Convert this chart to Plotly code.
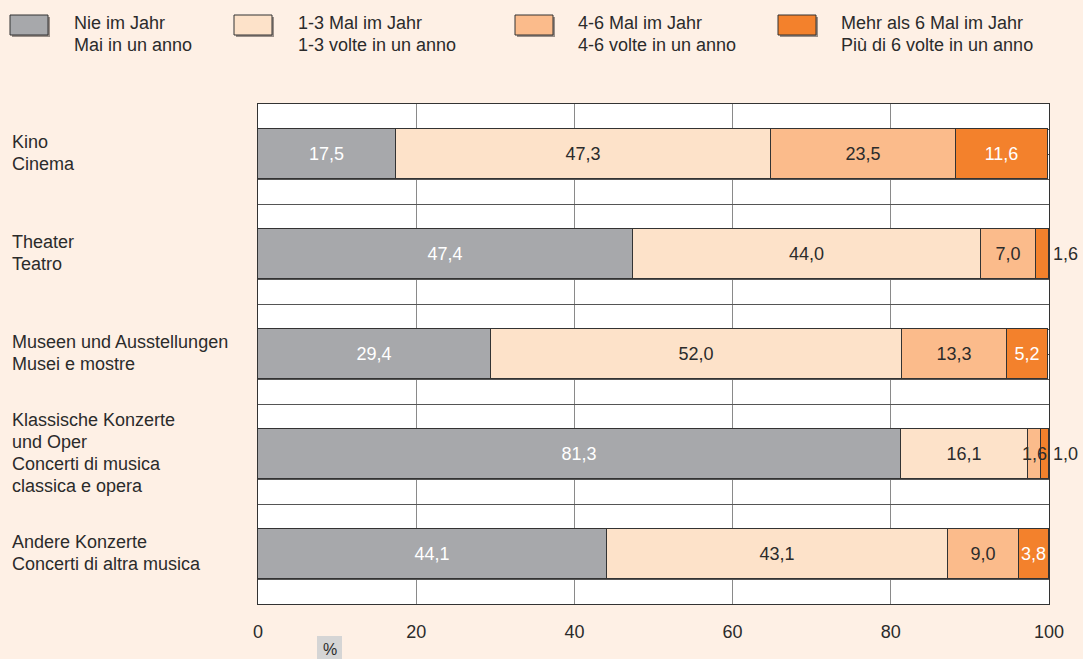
import plotly.graph_objects as go

categories = [
    "Kino<br>Cinema",
    "Theater<br>Teatro",
    "Museen und Ausstellungen<br>Musei e mostre",
    "Klassische Konzerte<br>und Oper<br>Concerti di musica<br>classica e opera",
    "Andere Konzerte<br>Concerti di altra musica",
]
series_names = [
    "Nie im Jahr<br>Mai in un anno",
    "1-3 Mal im Jahr<br>1-3 volte in un anno",
    "4-6 Mal im Jahr<br>4-6 volte in un anno",
    "Mehr als 6 Mal im Jahr<br>Più di 6 volte in un anno",
]
nie = [17.5, 47.4, 29.4, 81.3, 44.1]
mal_1_3 = [47.3, 44.0, 52.0, 16.1, 43.1]
mal_4_6 = [23.5, 7.0, 13.3, 1.6, 9.0]
mehr_6 = [11.6, 1.6, 5.2, 1.0, 3.8]
series_values = [nie, mal_1_3, mal_4_6, mehr_6]
# labels shown outside the bar end (series index, category index)
outside_labels = [(3, 1), (3, 3)]
# labels centred on a bar but drawn on top (overflowing a narrow bar)
overflow_labels = [(2, 3)]
x_ticks = [0, 20, 40, 60, 80, 100]

colors = ["#a7a8ab", "#fde2c9", "#fbbb8b", "#f3812c"]
text_colors = ["#ffffff", "#2b2b2b", "#2b2b2b", "#ffffff"]
BG = "#fef0e5"
FONT = "Liberation Sans, Arial, sans-serif"
FS = 18
LINE = 22

W, H = 1083, 659
L, R, T, B = 258, 1049, 104, 604


def px(x):
    return (x - L) / (R - L)


def py(y):
    return 1 - (y - T) / (B - T)


def fmt(v):
    return f"{v:.1f}".replace(".", ",")


fig = go.Figure()
ys = list(range(len(categories)))
for si, (name, vals) in enumerate(zip(series_names, series_values)):
    texts = []
    for ci, v in enumerate(vals):
        special = (si, ci) in outside_labels or (si, ci) in overflow_labels
        texts.append("" if special else fmt(v))
    fig.add_trace(go.Bar(
        x=vals, y=ys, orientation="h", name=name,
        width=0.5,
        marker=dict(color=colors[si], line=dict(color="#333333", width=1)),
        text=texts, textposition="inside", insidetextanchor="middle",
        textangle=0, constraintext="none",
        textfont=dict(color=text_colors[si], size=FS, family=FONT),
        hoverinfo="skip", showlegend=False,
    ))

annotations = []
shapes = []
# outside labels
for si, ci in outside_labels:
    total = sum(s[ci] for s in series_values)
    annotations.append(dict(
        x=total, y=ci, xref="x", yref="y", text=fmt(series_values[si][ci]),
        showarrow=False, xanchor="left", xshift=2, yanchor="middle",
        font=dict(size=FS, color="#2b2b2b", family=FONT)))
# overflow labels
for si, ci in overflow_labels:
    start = sum(series_values[k][ci] for k in range(si))
    mid = start + series_values[si][ci] / 2
    annotations.append(dict(
        x=mid, y=ci, xref="x", yref="y", text=fmt(series_values[si][ci]),
        showarrow=False, xanchor="center", yanchor="middle",
        font=dict(size=FS, color=text_colors[si], family=FONT)))

# category labels (one annotation per line for exact line spacing)
for ci, cat in enumerate(categories):
    lines = cat.split("<br>")
    n = len(lines)
    for li, line in enumerate(lines):
        annotations.append(dict(
            x=px(10), y=ci, xref="paper", yref="y", text=line, showarrow=False,
            xanchor="left", yanchor="middle", align="left",
            yshift=-(li - (n - 1) / 2) * LINE + 1,
            font=dict(size=FS, color="#2b2b2b", family=FONT)))

# custom legend
box_x = [10, 234, 515, 778]
text_x = [72, 296, 576, 839]
for si, name in enumerate(series_names):
    x0, x1 = box_x[si], box_x[si] + 38
    y0, y1 = 15, 35
    shapes.append(dict(type="rect", xref="paper", yref="paper",
                       x0=px(x0 + 2), x1=px(x1 + 2), y0=py(y0 + 2), y1=py(y1 + 2),
                       fillcolor="#9a8f88", line=dict(width=0), layer="above"))
    shapes.append(dict(type="rect", xref="paper", yref="paper",
                       x0=px(x0), x1=px(x1), y0=py(y0), y1=py(y1),
                       fillcolor=colors[si], line=dict(color="#333333", width=1),
                       layer="above"))
    for li, line in enumerate(name.split("<br>")):
        annotations.append(dict(
            x=px(text_x[si]), y=py(23 + li * LINE), xref="paper", yref="paper",
            text=line, showarrow=False, xanchor="left", yanchor="middle",
            align="left", font=dict(size=FS, color="#2b2b2b", family=FONT)))

# % box
shapes.append(dict(type="rect", xref="paper", yref="paper",
                   x0=px(317), x1=px(342), y0=py(636), y1=py(662),
                   fillcolor="#d5d5d5", line=dict(width=0)))
annotations.append(dict(x=px(329.5), y=py(649), xref="paper", yref="paper",
                        text="%", showarrow=False, xanchor="center", yanchor="middle",
                        font=dict(size=16, color="#2b2b2b", family=FONT)))

fig.update_layout(
    width=W, height=H,
    margin=dict(l=L, r=W - R, t=T, b=H - B, pad=0),
    paper_bgcolor=BG, plot_bgcolor="#ffffff",
    barmode="stack", bargap=0,
    font=dict(family=FONT, color="#2b2b2b", size=FS),
    annotations=annotations, shapes=shapes,
    xaxis=dict(range=[0, 100], tickvals=x_ticks, ticktext=[str(t) for t in x_ticks],
               showgrid=True, gridcolor="#8a8a8a", gridwidth=1,
               showline=True, linecolor="#333333", linewidth=1, mirror=True,
               zeroline=False, ticks="", ticklabelstandoff=11,
               tickfont=dict(size=FS, color="#2b2b2b", family=FONT), fixedrange=True),
    yaxis=dict(range=[len(categories) - 0.5, -0.5], tickmode="linear", tick0=-0.5,
               dtick=0.25, showticklabels=False, showgrid=True, gridcolor="#555555",
               gridwidth=1, showline=True, linecolor="#333333", linewidth=1,
               mirror=True, zeroline=False, ticks="", fixedrange=True),
)

fig.write_html(
    "out.html",
    config={"displayModeBar": False},
    post_script="document.body.style.margin='0';document.body.style.overflow='hidden';",
)
